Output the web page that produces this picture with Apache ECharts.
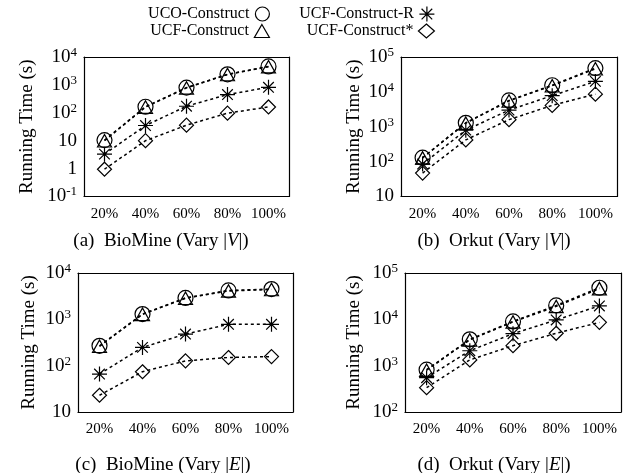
<!DOCTYPE html>
<html><head><meta charset="utf-8">
<script src="https://cdn.jsdelivr.net/npm/echarts@6/dist/echarts.min.js"></script>
<style>html,body{margin:0;padding:0;background:#fff}#c{width:634px;height:473px}</style>
</head><body><div id="c"></div>
<script>
const categories = ['20%', '40%', '60%', '80%', '100%'];
const seriesNames = ['UCO-Construct', 'UCF-Construct', 'UCF-Construct-R', 'UCF-Construct*'];

// (a) BioMine (Vary |V|)
const bioV_UCO = [10.5, 165, 800, 2400, 4600];
const bioV_UCF = [10, 160, 780, 2350, 4500];
const bioV_UCFR = [3.3, 35, 172, 450, 820];
const bioV_UCFStar = [0.95, 10, 36, 97, 162];
// (b) Orkut (Vary |V|)
const orkV_UCO = [130, 1300, 5700, 15500, 48000];
const orkV_UCF = [128, 1270, 5500, 15000, 46000];
const orkV_UCFR = [85, 800, 3000, 7800, 20000];
const orkV_UCFStar = [47, 420, 1600, 4100, 8600];
// (c) BioMine (Vary |E|)
const bioE_UCO = [268, 1300, 2900, 4200, 4500];
const bioE_UCF = [262, 1280, 2850, 4100, 4400];
const bioE_UCFR = [66, 248, 480, 780, 780];
const bioE_UCFStar = [23, 74, 127, 150, 157];
// (d) Orkut (Vary |E|)
const orkE_UCO = [820, 3700, 9000, 20000, 48000];
const orkE_UCF = [800, 3600, 8800, 19000, 46000];
const orkE_UCFR = [550, 2100, 4900, 9700, 19500];
const orkE_UCFStar = [335, 1330, 2700, 5000, 8600];

const yMins = [0.1, 10, 10, 100];
const yMaxs = [1e4, 1e5, 1e4, 1e5];
const captions = ['(a)  BioMine (Vary |{i|V}|)', '(b)  Orkut (Vary |{i|V}|)', '(c)  BioMine (Vary |{i|E}|)', '(d)  Orkut (Vary |{i|E}|)'];
const panelData = [
  [bioV_UCO, bioV_UCF, bioV_UCFR, bioV_UCFStar],
  [orkV_UCO, orkV_UCF, orkV_UCFR, orkV_UCFStar],
  [bioE_UCO, bioE_UCF, bioE_UCFR, bioE_UCFStar],
  [orkE_UCO, orkE_UCF, orkE_UCFR, orkE_UCFStar]
];

const FONT = 'Liberation Serif';
const grids = [
  {left: 84, top: 57, width: 205, height: 139.5},
  {left: 401, top: 57, width: 216, height: 139.5},
  {left: 78, top: 273, width: 215, height: 139},
  {left: 405, top: 273, width: 216, height: 139}
];
const nameGaps = [47, 37, 39, 41];
const captionPos = [[161, 241], [494, 241], [163, 465], [494, 465]];

const symbols = [
  'circle',
  'path://M5,0L10,8.66L0,8.66Z',
  'path://M0,5L10,5M5,0L5,10M1.46,1.46L8.54,8.54M1.46,8.54L8.54,1.46',
  'diamond'
];
const symbolSizes = [15, [14, 12.5], 15, 14];
const legendSizes = [[16, 14], [16, 13], [16, 15], [16, 14]];

function yFmt(v) {
  const e = Math.round(Math.log10(v));
  if (e === 0) return '{b|1}';
  if (e === 1) return '{b|10}';
  return '{b|10}{s|' + (e < 0 ? '-' + (-e) : e) + '}';
}

const xAxes = [], yAxes = [], series = [];
grids.forEach((g, i) => {
  xAxes.push({
    type: 'category', gridIndex: i, data: categories, boundaryGap: true,
    axisLine: {lineStyle: {color: '#000', width: 1.2}},
    axisTick: {inside: true, alignWithLabel: true, length: 5, lineStyle: {color: '#000', width: 1}},
    axisLabel: {interval: 0, hideOverlap: false, fontFamily: FONT, fontSize: 15, color: '#000', margin: 10},
    splitLine: {show: false}
  });
  yAxes.push({
    type: 'log', logBase: 10, gridIndex: i, min: yMins[i], max: yMaxs[i],
    name: 'Running Time (s)', nameLocation: 'middle', nameGap: nameGaps[i],
    nameTextStyle: {fontFamily: FONT, fontSize: 19, color: '#000'},
    axisLine: {show: true, lineStyle: {color: '#000', width: 1.2}},
    axisTick: {inside: true, length: 5, lineStyle: {color: '#000', width: 1}},
    axisLabel: {color: '#000', margin: 7, formatter: yFmt,
      rich: {b: {fontFamily: FONT, fontSize: 19, color: '#000'},
             s: {fontFamily: FONT, fontSize: 13, color: '#000', padding: [0, 0, 9, 0]}}},
    splitLine: {show: false}
  });
});
grids.forEach((g, i) => {
  xAxes.push({
    type: 'category', gridIndex: i, data: categories, boundaryGap: true, position: 'top',
    axisLine: {lineStyle: {color: '#000', width: 1.2}},
    axisTick: {inside: true, alignWithLabel: true, length: 5, lineStyle: {color: '#000', width: 1}},
    axisLabel: {show: false}, splitLine: {show: false}
  });
  yAxes.push({
    type: 'log', logBase: 10, gridIndex: i, min: yMins[i], max: yMaxs[i], position: 'right',
    axisLine: {show: true, lineStyle: {color: '#000', width: 1.2}},
    axisTick: {inside: true, length: 5, lineStyle: {color: '#000', width: 1}},
    axisLabel: {show: false}, splitLine: {show: false}
  });
});

panelData.forEach((arrs, i) => {
  arrs.forEach((vals, k) => {
    series.push({
      type: 'line', name: seriesNames[k], xAxisIndex: i, yAxisIndex: i,
      data: vals, symbol: symbols[k], symbolSize: symbolSizes[k],
      itemStyle: {color: 'rgba(0,0,0,0)', borderColor: '#000', borderWidth: 1.2},
      lineStyle: {color: '#000', width: 1.5, type: [3, 3]},
      emphasis: {disabled: true}, animation: false, z: 2
    });
  });
});

const legendPos = [[364, 6], [364, 23], [199, 6], [199, 23]];
const legends = seriesNames.map((n, k) => ({
  data: [{name: n, icon: symbols[k]}],
  align: 'right', right: legendPos[k][0], top: legendPos[k][1], padding: 0,
  itemWidth: legendSizes[k][0], itemHeight: legendSizes[k][1], selectedMode: false,
  itemStyle: {color: 'rgba(0,0,0,0)', borderColor: '#000', borderWidth: 1.2},
  textStyle: {fontFamily: FONT, fontSize: 16, color: '#000'}
}));

const graphics = captions.map((t, i) => ({
  type: 'text', x: captionPos[i][0], y: captionPos[i][1],
  style: {text: t, fontFamily: FONT, fontSize: 19, fill: '#000', align: 'center', verticalAlign: 'middle',
    rich: {i: {fontFamily: FONT, fontSize: 19, fontStyle: 'italic', fill: '#000'}}}
}));

const chart = echarts.init(document.getElementById('c'), null, {renderer: 'canvas'});
chart.setOption({
  animation: false, backgroundColor: '#fff',
  grid: grids, xAxis: xAxes, yAxis: yAxes, series: series,
  legend: legends, graphic: graphics
});
</script></body></html>
